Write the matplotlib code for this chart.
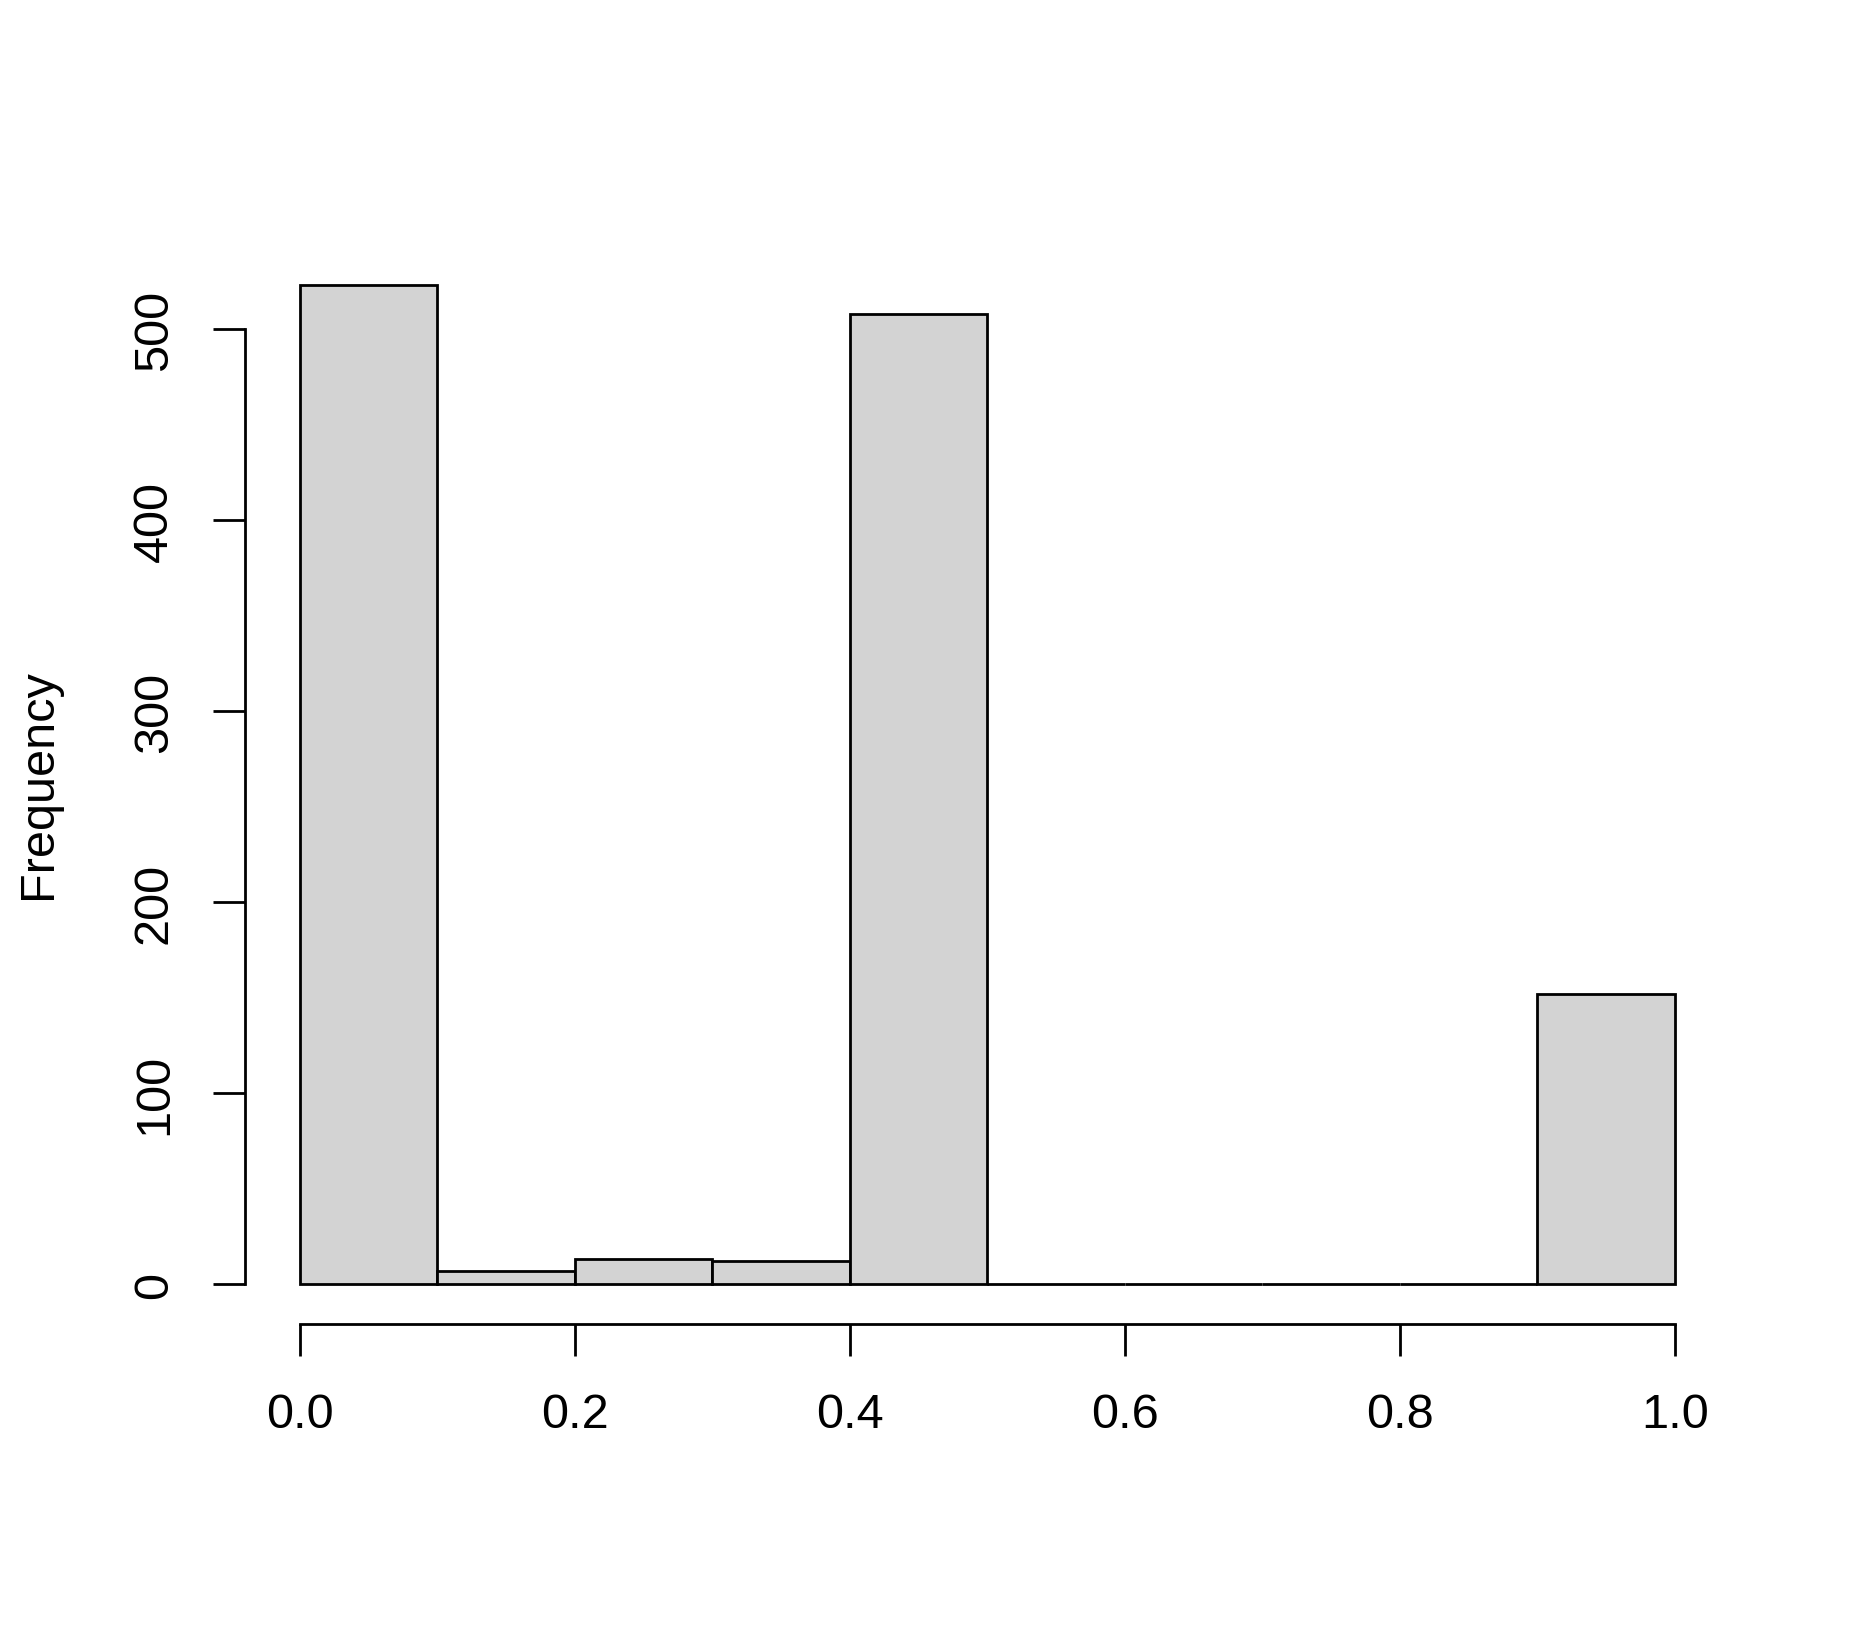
import matplotlib.pyplot as plt
import numpy as np

# histogram counts
bin_edges = [0.0, 0.1, 0.2, 0.3, 0.4, 0.5, 0.6, 0.7, 0.8, 0.9, 1.0]
counts = [523, 7, 13, 12, 508, 0, 0, 0, 0, 152]
xticks = [0.0, 0.2, 0.4, 0.6, 0.8, 1.0]
xtick_labels = ["0.0", "0.2", "0.4", "0.6", "0.8", "1.0"]
yticks = [0, 100, 200, 300, 400, 500]

plt.rcParams['font.family'] = ['Liberation Sans', 'DejaVu Sans']

fig = plt.figure(figsize=(18.56, 16.31), dpi=100)
ax = fig.add_axes([0.1320, 0.1876, 0.9321 - 0.1320, 0.8490 - 0.1876])

lefts = np.array(bin_edges[:-1])
widths = np.diff(bin_edges)
ax.bar(lefts, counts, width=widths, align='edge', color='#D3D3D3',
       edgecolor='black', linewidth=2.0)

# R style axes: 4% extension, no box
ymax = max(counts)
ax.set_xlim(-0.04, 1.04)
ax.set_ylim(-0.04 * ymax, 1.04 * ymax)
for s in ['top', 'right']:
    ax.spines[s].set_visible(False)
ax.spines['left'].set_bounds(0, 500)
ax.spines['bottom'].set_bounds(0, 1)
for s in ['left', 'bottom']:
    ax.spines[s].set_linewidth(2.0)

ax.set_xticks(xticks)
ax.set_xticklabels(xtick_labels)
ax.set_yticks(yticks)
ax.tick_params(axis='both', direction='out', length=23, width=2.0,
               labelsize=35)
ax.tick_params(axis='x', pad=26)
ax.tick_params(axis='y', pad=26)
for lab in ax.get_yticklabels():
    lab.set_rotation(90)
    lab.set_va('center')

fig.text(39 / 1856, 1 - 784 / 1631, "Frequency", rotation=90,
         ha='center', va='center', fontsize=35)

fig.savefig("out.png", dpi=100)
